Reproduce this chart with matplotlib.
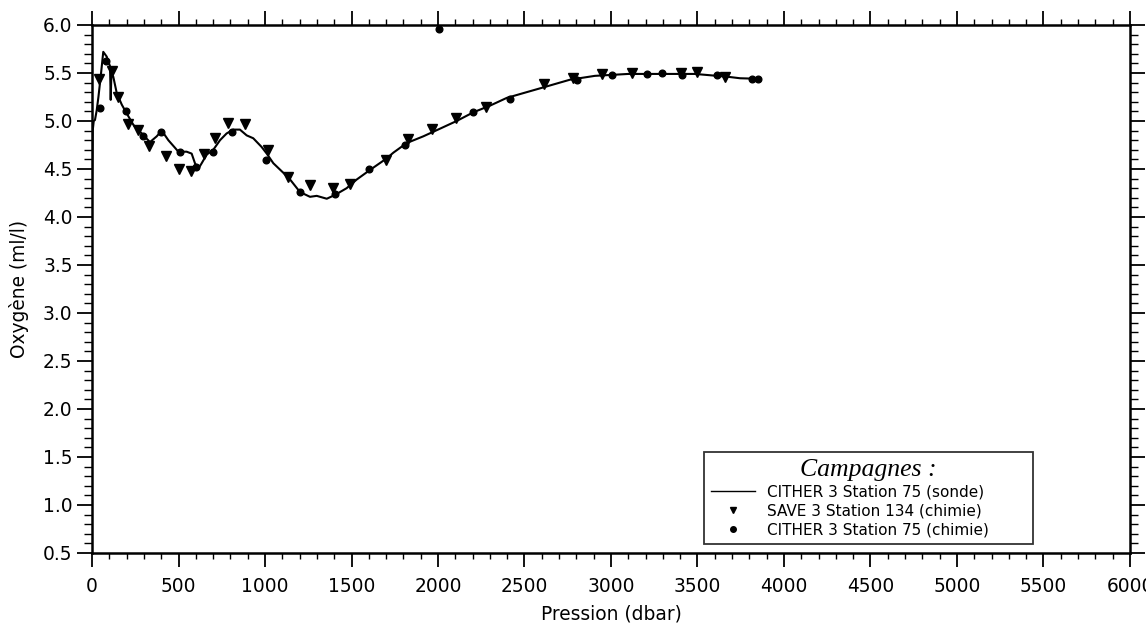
import matplotlib
matplotlib.use("Agg")
import matplotlib.pyplot as plt
from matplotlib.ticker import MultipleLocator
from matplotlib.lines import Line2D

# CITHER 3 Station 75 (sonde) - continuous profile
sonde_p = [0, 4, 10, 17, 27, 37, 50, 65, 85, 104, 108, 112, 123, 143, 172, 200,
           239, 287, 335, 374, 403, 441, 480, 499, 547, 576, 595, 614, 634, 663,
           701, 740, 778, 817, 855, 894, 932, 980, 1010, 1048, 1106, 1145, 1202,
           1260, 1299, 1357, 1405, 1472, 1530, 1607, 1703, 1742, 1819, 1915, 2012,
           2108, 2204, 2301, 2397, 2493, 2590, 2686, 2763, 2907, 3100, 3292, 3485,
           3677, 3746, 3842]
sonde_o2 = [4.30, 4.90, 5.00, 5.01, 5.11, 5.25, 5.46, 5.72, 5.67, 5.57, 5.22, 5.50,
            5.46, 5.29, 5.17, 5.08, 4.96, 4.87, 4.78, 4.84, 4.90, 4.80, 4.72, 4.68,
            4.68, 4.66, 4.56, 4.50, 4.56, 4.65, 4.70, 4.80, 4.87, 4.91, 4.91, 4.85,
            4.82, 4.73, 4.66, 4.56, 4.46, 4.39, 4.26, 4.21, 4.22, 4.19, 4.23, 4.30,
            4.39, 4.49, 4.61, 4.67, 4.77, 4.84, 4.92, 5.00, 5.09, 5.16, 5.24, 5.29,
            5.34, 5.39, 5.43, 5.47, 5.49, 5.49, 5.49, 5.46, 5.445, 5.44]

# SAVE 3 Station 134 (chimie)
save_p = [40, 118, 152, 210, 268, 332, 428, 505, 572, 647, 711, 788, 884, 1019,
          1135, 1260, 1391, 1491, 1697, 1829, 1963, 2102, 2275, 2613, 2782, 2946,
          3119, 3403, 3499, 3659]
save_o2 = [5.44, 5.52, 5.25, 4.97, 4.91, 4.74, 4.63, 4.50, 4.48, 4.66, 4.82, 4.98,
           4.97, 4.70, 4.42, 4.33, 4.30, 4.34, 4.59, 4.81, 4.92, 5.03, 5.15, 5.38,
           5.45, 5.49, 5.50, 5.50, 5.51, 5.46]

# CITHER 3 Station 75 (chimie)
cit_p = [46, 80, 196, 297, 397, 509, 601, 701, 807, 1006, 1202, 1405, 1601, 1809,
         2006, 2200, 2416, 2802, 3008, 3210, 3293, 3408, 3611, 3813, 3851]
cit_o2 = [5.13, 5.62, 5.10, 4.84, 4.88, 4.68, 4.52, 4.68, 4.88, 4.59, 4.26, 4.24,
          4.50, 4.75, 5.955, 5.09, 5.23, 5.43, 5.48, 5.49, 5.50, 5.48, 5.48, 5.44, 5.44]

labels = ["CITHER 3 Station 75 (sonde)", "SAVE 3 Station 134 (chimie)",
          "CITHER 3 Station 75 (chimie)"]
x_ticks = list(range(0, 6001, 500))
y_ticks = [0.5, 1.0, 1.5, 2.0, 2.5, 3.0, 3.5, 4.0, 4.5, 5.0, 5.5, 6.0]

plt.rcParams['font.family'] = ['DejaVu Sans']

fig = plt.figure(figsize=(11.46, 6.37), dpi=100)
ax = fig.add_axes([0.0803, 0.1319, 0.9057, 0.8289])

ax.plot(sonde_p, sonde_o2, color='black', lw=1.5, zorder=3)
ax.plot(save_p, save_o2, 'v', color='black', ms=6.5, zorder=4, clip_on=False)
ax.plot(cit_p, cit_o2, 'o', color='black', ms=4.8, zorder=4, clip_on=False)

ax.set_xlim(0, 6000)
ax.set_ylim(0.5, 6.0)
ax.set_xticks(x_ticks)
ax.set_xticklabels([str(v) for v in x_ticks])
ax.set_yticks(y_ticks)
ax.set_yticklabels(["%.1f" % v for v in y_ticks])
ax.xaxis.set_minor_locator(MultipleLocator(100))
ax.yaxis.set_minor_locator(MultipleLocator(0.1))

for s in ax.spines.values():
    s.set_linewidth(1.8)
ax.tick_params(which='both', direction='out', top=True, right=True,
               labelsize=13.4, colors='black')
ax.tick_params(which='major', width=1.3)
ax.tick_params(which='minor', width=1.0)
ax.tick_params(axis='x', which='major', length=10, pad=7.5)
ax.tick_params(axis='x', which='minor', length=4)
ax.tick_params(axis='y', which='major', length=10.5, pad=3.5)
ax.tick_params(axis='y', which='minor', length=5.5)

ax.set_xlabel("Pression (dbar)", fontsize=13.4)
ax.set_ylabel("Oxygène (ml/l)", fontsize=13.4)
ax.xaxis.set_label_coords(0.5, -0.097)
ax.yaxis.set_label_coords(-0.061, 0.5)

handles = [Line2D([], [], color='black', lw=1.0),
           Line2D([], [], ls='none', marker='v', color='black', ms=4.5),
           Line2D([], [], ls='none', marker='o', color='black', ms=4)]
leg = ax.legend(handles, labels, title="Campagnes :", loc='upper left',
                bbox_to_anchor=(0.5896, 0.0, 0.317, 0.1913), mode='expand',
                prop={'family': 'DejaVu Sans', 'size': 11},
                frameon=True, fancybox=False, edgecolor='black',
                handlelength=2.9, handletextpad=0.8, labelspacing=0.25,
                borderpad=0.45, borderaxespad=0)
leg.get_frame().set_linewidth(1.3)
t = leg.get_title()
t.set_fontfamily('Liberation Serif')
t.set_fontstyle('italic')
t.set_fontsize(18.5)

fig.savefig("out.png", dpi=100)
